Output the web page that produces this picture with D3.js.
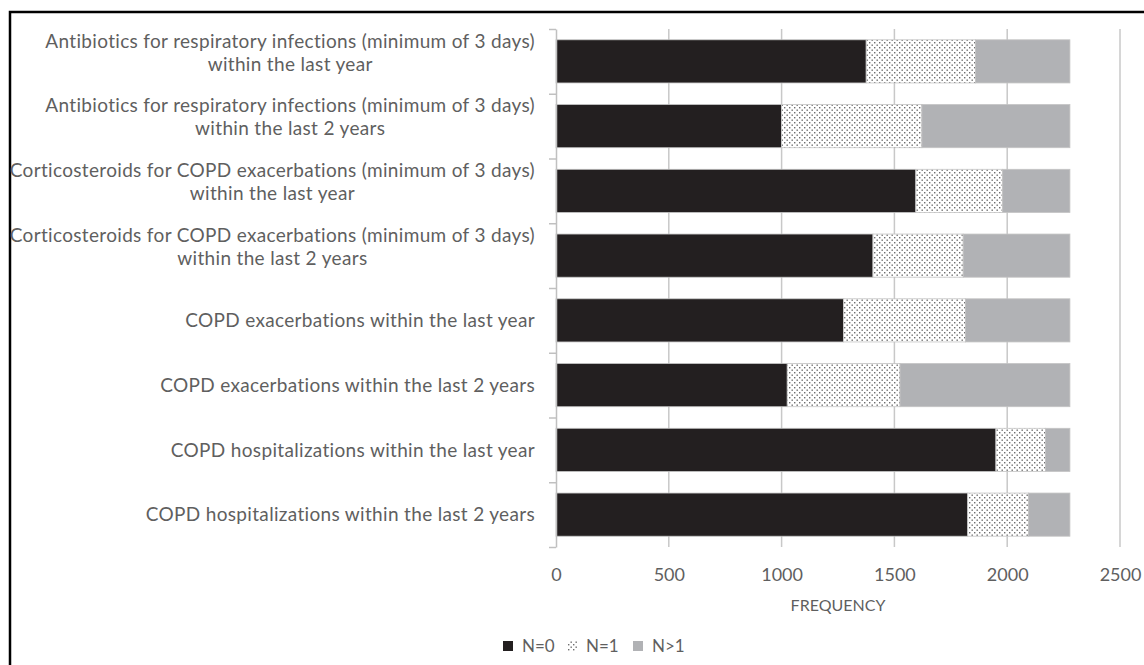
<!DOCTYPE html>
<html>
<head>
<meta charset="utf-8">
<script src="https://cdn.jsdelivr.net/npm/d3@7"></script>
<style>
	body { margin: 0; background: #fff; }
	text { font-family: Lato, 'Open Sans', sans-serif; }
</style>
</head>
<body>
<svg id="chart" width="1144" height="665"></svg>
<script>
// category labels, one inner array per wrapped line
const categories = [
	['Antibiotics for respiratory infections (minimum of 3 days)', 'within the last year'],
	['Antibiotics for respiratory infections (minimum of 3 days)', 'within the last 2 years'],
	['Corticosteroids for COPD exacerbations (minimum of 3 days)', 'within the last year'],
	['Corticosteroids for COPD exacerbations (minimum of 3 days)', 'within the last 2 years'],
	['COPD exacerbations within the last year'],
	['COPD exacerbations within the last 2 years'],
	['COPD hospitalizations within the last year'],
	['COPD hospitalizations within the last 2 years']
];
const seriesNames = ['N=0', 'N=1', 'N>1'];
const n0 = [1375, 1000, 1595, 1405, 1275, 1025, 1950, 1825];
const n1 = [485, 622, 385, 400, 540, 500, 220, 270];
const nGt1 = [418, 656, 298, 473, 463, 753, 108, 183];
const xTicks = [0, 500, 1000, 1500, 2000, 2500];
const xTitle = 'FREQUENCY';

let svg = d3.select('#chart');
let margin = { top: 29, left: 556, right: 24, bottom: 118 };
let width = 1144 - margin.left - margin.right;
let height = 665 - margin.top - margin.bottom;

let defs = svg.append('defs');
let pat = defs.append('pattern')
	.attr('id', 'dots')
	.attr('patternUnits', 'userSpaceOnUse')
	.attr('width', 5)
	.attr('height', 5);
pat.append('rect').attr('width', 5).attr('height', 5).attr('fill', '#fff');
pat.append('rect').attr('x', 0.5).attr('y', 0.5).attr('width', 1.4).attr('height', 1.4).attr('fill', '#6e6e6e');
pat.append('rect').attr('x', 3).attr('y', 3).attr('width', 1.4).attr('height', 1.4).attr('fill', '#6e6e6e');

let fills = ['#231f20', 'url(#dots)', '#b1b2b5'];

// outer frame (only left and top show in the picture)
svg.append('rect')
	.attr('x', 10).attr('y', 12)
	.attr('width', 1200).attr('height', 700)
	.attr('fill', 'none')
	.attr('stroke', '#000')
	.attr('stroke-width', 2.5);

let x = d3.scaleLinear().domain([0, 2500]).range([0, width]);
let y = d3.scaleBand()
	.domain(d3.range(categories.length))
	.range([0, height])
	.paddingInner(1 / 3)
	.paddingOuter(1 / 6);
let yEdge = d3.scaleLinear().domain([0, categories.length]).range([0, height]);

let g = svg.append('g')
	.attr('transform', 'translate(' + margin.left + ',' + margin.top + ')');

// vertical gridlines
g.selectAll('.grid')
	.data(xTicks.slice(1))
	.enter().append('line')
	.attr('class', 'grid')
	.attr('x1', (d) => x(d)).attr('x2', (d) => x(d))
	.attr('y1', 0).attr('y2', height)
	.attr('stroke', '#c8c8c8')
	.attr('stroke-width', 1.5);

// stacked bars
let stackData = categories.map((c, i) => ({ i: i, a: n0[i], b: n1[i], c: nGt1[i] }));
let stack = d3.stack().keys(['a', 'b', 'c']);
let layers = g.selectAll('.layer')
	.data(stack(stackData))
	.enter().append('g')
	.attr('class', 'layer')
	.attr('fill', (d, k) => fills[k]);

layers.selectAll('rect')
	.data((d) => d)
	.enter().append('rect')
	.attr('x', (d) => x(d[0]))
	.attr('y', (d) => y(d.data.i))
	.attr('width', (d) => x(d[1]) - x(d[0]))
	.attr('height', y.bandwidth())
	.attr('stroke', '#c4c4c4')
	.attr('stroke-width', 0.8);

// y axis with ticks at category edges
let yAxis = g.append('g')
	.call(d3.axisLeft(yEdge).tickValues(d3.range(categories.length + 1)).tickFormat('').tickSize(7).tickSizeOuter(0));
yAxis.selectAll('path, line').attr('stroke', '#c0c0c0').attr('stroke-width', 1.5);

// category labels
let labelRight = -21;
categories.forEach((lines, i) => {
	let cy = y(i) + y.bandwidth() / 2;
	let t = g.append('g');
	let texts = lines.map((s, k) => {
		let ly = lines.length === 1 ? cy : cy + (k === 0 ? -20.5 : 2.5);
		return t.append('text')
			.attr('y', ly)
			.attr('dy', '0.35em')
			.attr('font-size', 19)
			.attr('letter-spacing', 0.33)
			.attr('fill', '#5f5f5f')
			.text(s);
	});
	let widths = texts.map((tx) => tx.node().getComputedTextLength());
	let maxW = d3.max(widths);
	let center = labelRight - maxW / 2;
	texts.forEach((tx) => tx.attr('x', center).attr('text-anchor', 'middle'));
});

// x axis labels
let xAxis = g.append('g')
	.attr('transform', 'translate(0,' + height + ')')
	.call(d3.axisBottom(x).tickValues(xTicks).tickFormat(d3.format('d')).tickSize(0).tickPadding(21));
xAxis.select('.domain').remove();
xAxis.selectAll('text')
	.attr('font-family', "Lato, 'Open Sans', sans-serif")
	.attr('font-size', 18)
	.attr('fill', '#5f5f5f');

g.append('text')
	.attr('x', width / 2)
	.attr('y', height + 58)
	.attr('dy', '0.35em')
	.attr('text-anchor', 'middle')
	.attr('font-size', 16)
	.attr('fill', '#5f5f5f')
	.text(xTitle);

// legend
let legendX = [503, 567, 633];
let legend = svg.append('g').attr('transform', 'translate(0,646)');
seriesNames.forEach((name, k) => {
	legend.append('rect')
		.attr('x', legendX[k]).attr('y', -5)
		.attr('width', 10).attr('height', 10)
		.attr('fill', fills[k]);
	legend.append('text')
		.attr('x', legendX[k] + 19)
		.attr('dy', '0.35em')
		.attr('font-size', 17)
		.attr('fill', '#5f5f5f')
		.text(name);
});
</script>
</body>
</html>
